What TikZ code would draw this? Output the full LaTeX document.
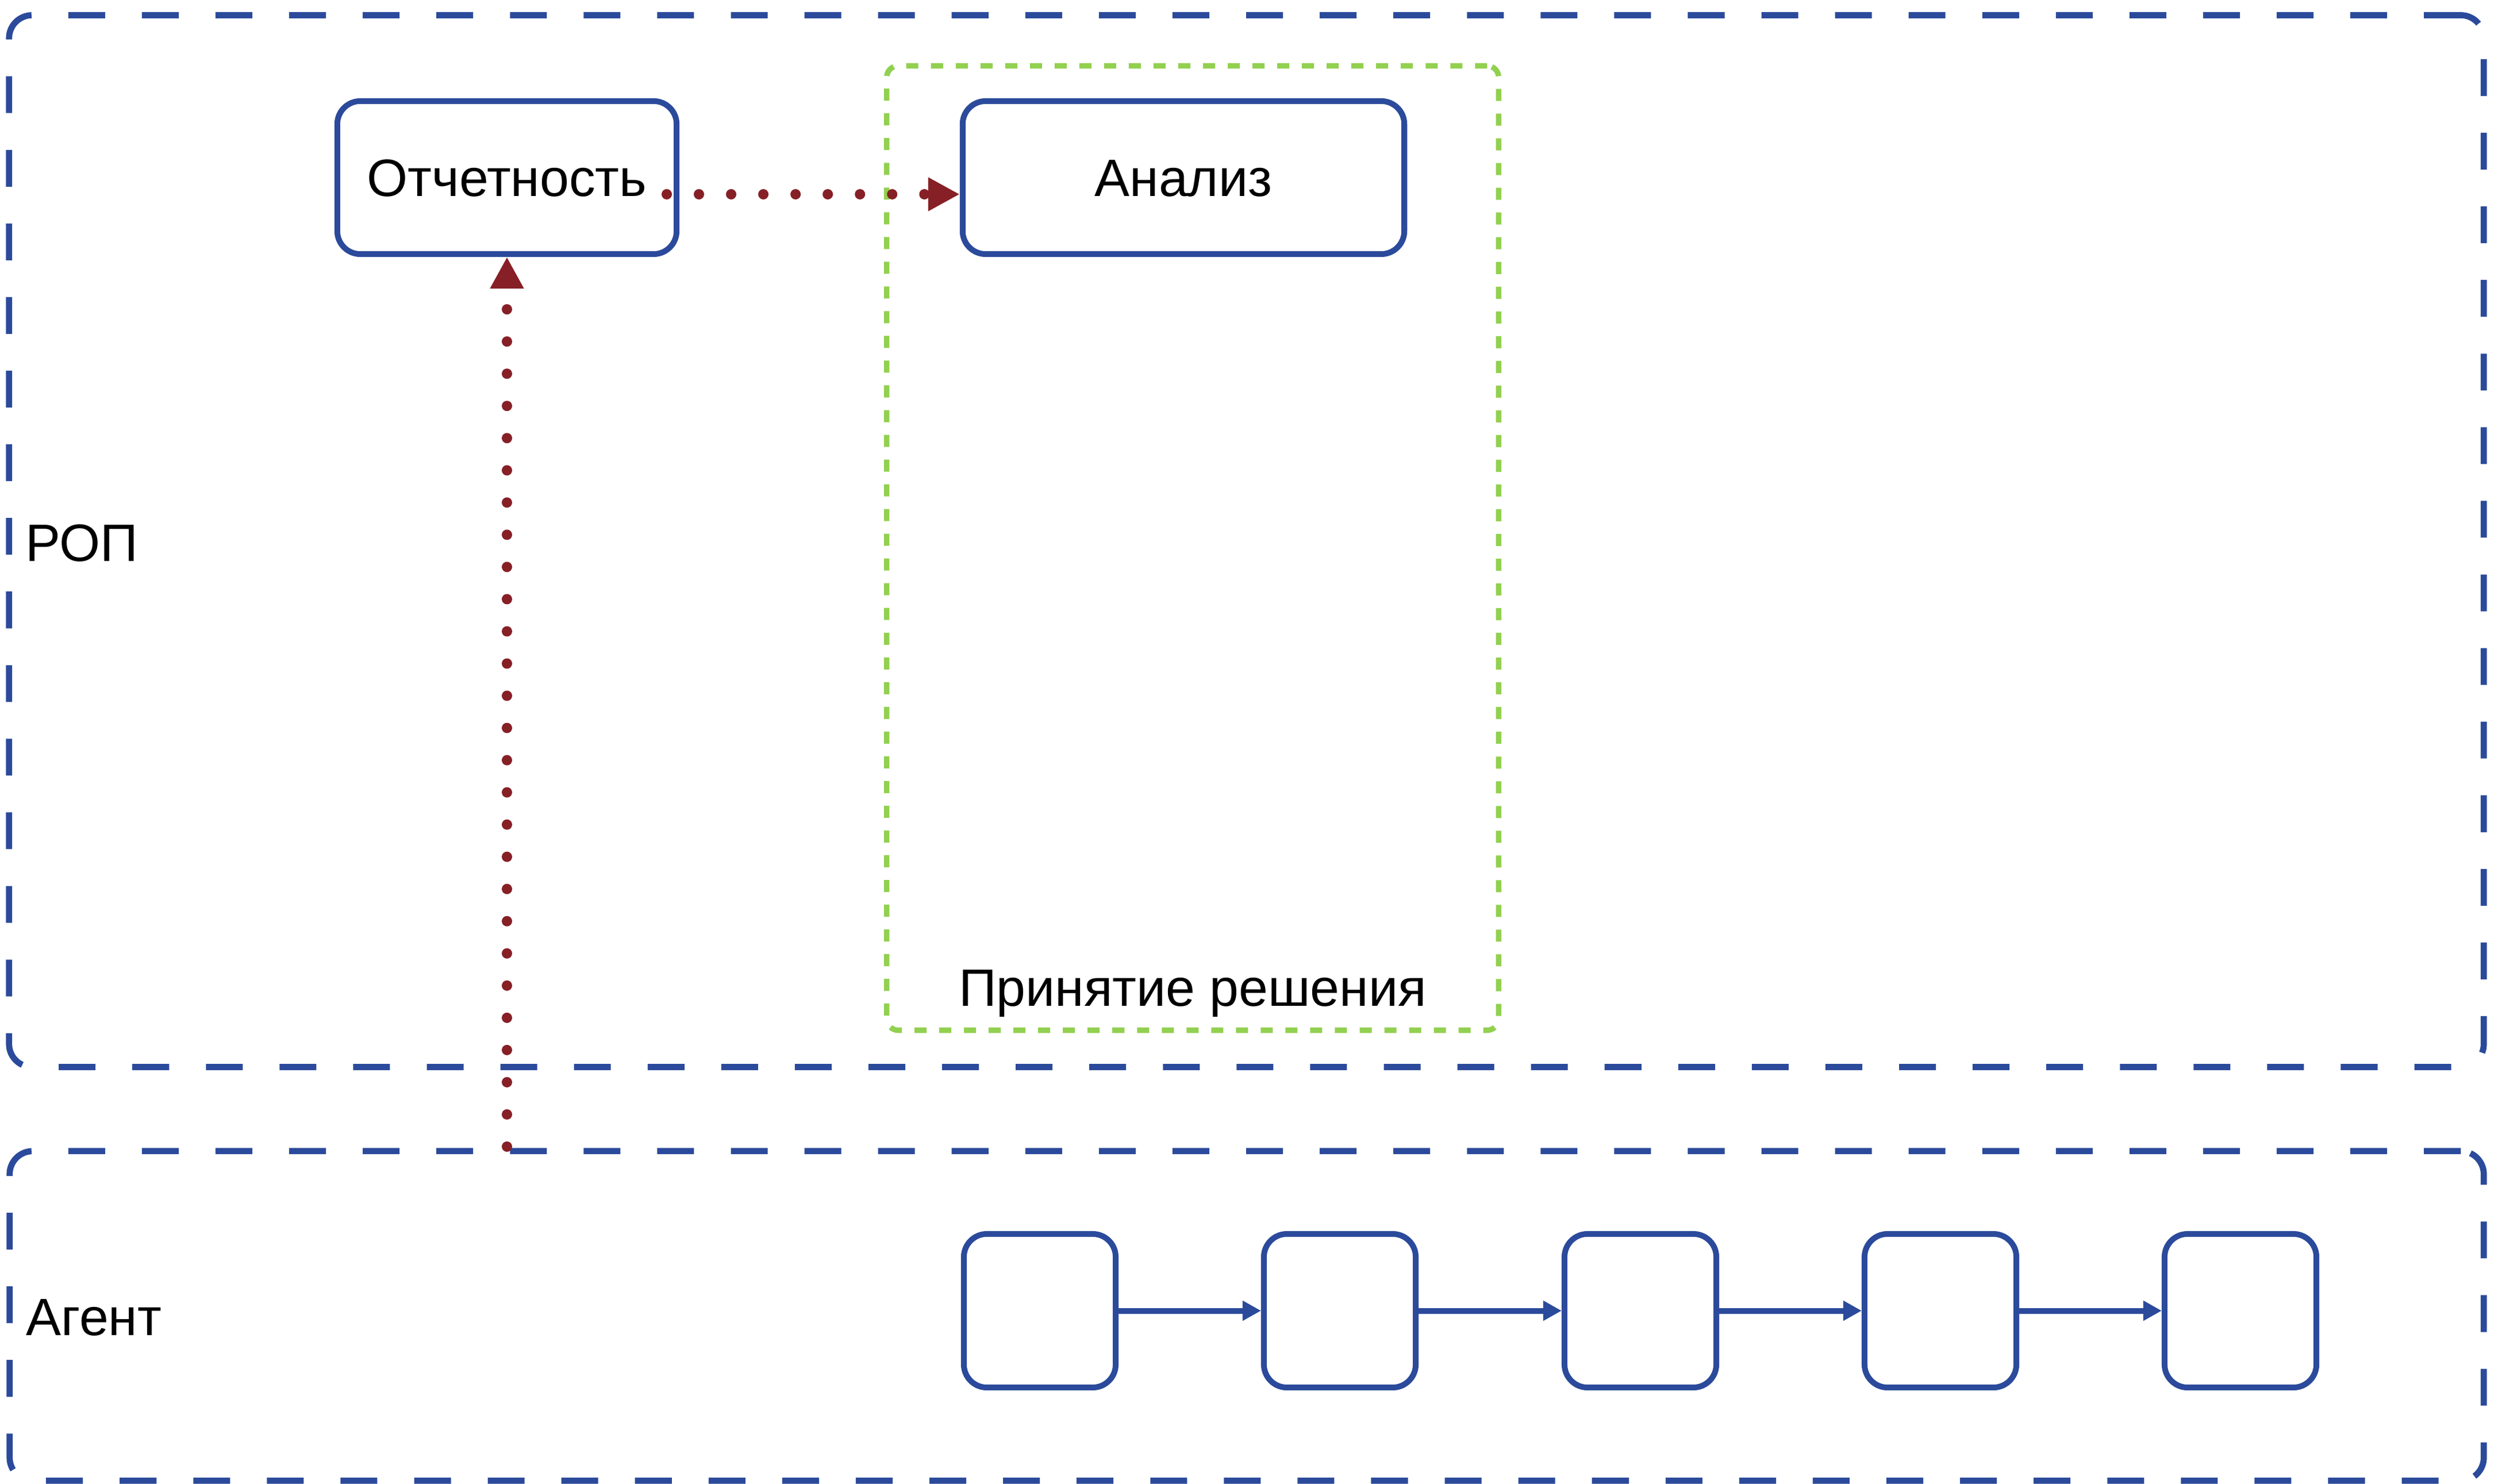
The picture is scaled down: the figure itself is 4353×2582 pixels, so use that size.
\documentclass[tikz,border=0pt]{standalone}
\usepackage{fontspec}
\setmainfont{Liberation Sans}
\usetikzlibrary{arrows.meta}
\definecolor{bblue}{RGB}{43,74,155}
\definecolor{ggreen}{RGB}{146,208,80}
\definecolor{rred}{RGB}{134,32,38}
\begin{document}
\begin{tikzpicture}[x=0.01cm,y=-0.01cm,
  lane/.style={draw=bblue, line width=0.107cm, dash pattern=on 0.64cm off 0.64cm, rounded corners=0.4cm, rectangle, inner sep=0pt, outer sep=0pt},
  grp/.style={draw=ggreen, line width=0.095cm, dash pattern=on 0.21cm off 0.22cm, rounded corners=0.2cm, rectangle, inner sep=0pt, outer sep=0pt},
  txt/.style={font=\fontsize{26}{31}\selectfont, inner sep=0pt},
  task/.style={draw=bblue, line width=0.1cm, rounded corners=0.4cm, rectangle, fill=white, inner sep=0pt, txt, text height=0.65cm, text depth=0pt},
  flow/.style={draw=bblue, line width=0.1cm, -{Triangle[length=0.32cm,width=0.33cm]}},
  msg/.style={draw=rred, line width=0.18cm, line cap=round, dash pattern=on 0pt off 0.56cm, -{Triangle[length=0.55cm,width=0.55cm]}}
]
\useasboundingbox (0,0) rectangle (4353,2582);
% lanes
\node[lane, minimum width=43.03cm, minimum height=18.29cm] (rop) at (2168.5,941.5) {};
\node[lane, minimum width=43.02cm, minimum height=5.73cm] (agent) at (2169,2289.5) {};
\node[txt, anchor=base west] (roplbl) at (44,976) {РОП};
\node[txt, anchor=base west] (agentlbl) at (45,2323) {Агент};
% group
\node[grp, minimum width=10.64cm, minimum height=16.77cm] (decision) at (2075,953.5) {};
\node[txt, anchor=base] (decisionlbl) at (2075,1750) {Принятие решения};
% tasks
\node[task, minimum width=5.9cm, minimum height=2.66cm] (otch) at (882,309) {Отчетность};
\node[task, minimum width=7.68cm, minimum height=2.66cm] (analiz) at (2059,309) {Анализ};
% agent chain
\node[task, minimum width=2.64cm, minimum height=2.67cm] (b1) at (1809,2280.5) {};
\node[task, minimum width=2.64cm, minimum height=2.67cm] (b2) at (2331,2280.5) {};
\node[task, minimum width=2.64cm, minimum height=2.67cm] (b3) at (2854,2280.5) {};
\node[task, minimum width=2.64cm, minimum height=2.67cm] (b4) at (3376,2280.5) {};
\node[task, minimum width=2.64cm, minimum height=2.67cm] (b5) at (3898,2280.5) {};
\draw[flow] (b1.east) -- (b2.west);
\draw[flow] (b2.east) -- (b3.west);
\draw[flow] (b3.east) -- (b4.west);
\draw[flow] (b4.east) -- (b5.west);
% message flows
\coordinate (hs) at (1160,338);
\coordinate (vs) at (882,1995);
\draw[msg] (hs) -- (hs -| analiz.west);
\draw[msg] (vs) -- (otch.south);
\end{tikzpicture}
\end{document}
